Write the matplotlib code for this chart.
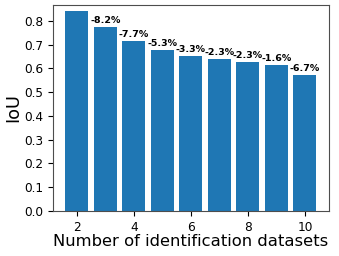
import matplotlib
matplotlib.use("Agg")
import matplotlib.pyplot as plt

num_datasets = [2, 3, 4, 5, 6, 7, 8, 9, 10]
iou = [0.843, 0.774, 0.715, 0.677, 0.654, 0.639, 0.625, 0.614, 0.573]
drops = ["-8.2%", "-7.7%", "-5.3%", "-3.3%", "-2.3%", "-2.3%", "-1.6%", "-6.7%"]

fig = plt.figure(figsize=(3.39, 2.56), dpi=100)
ax = fig.add_axes([0.156, 0.176, 0.814, 0.804])
bars = ax.bar(num_datasets, iou, width=0.8, color="#1f77b4")
for x, y, t in zip(num_datasets[1:], iou[1:], drops):
    ax.text(x, y + 0.008, t, ha="center", va="bottom", fontsize=6.8, fontweight="bold")
ax.set_ylim(0, 0.866)
ax.set_xticks([2, 4, 6, 8, 10])
ax.set_yticks([0.0, 0.1, 0.2, 0.3, 0.4, 0.5, 0.6, 0.7, 0.8])
ax.tick_params(labelsize=8.7)
ax.set_xlabel("Number of identification datasets", fontsize=11.8, labelpad=0)
ax.set_ylabel("IoU", fontsize=12.8, labelpad=1)
for s in ax.spines.values():
    s.set_color("0.3")
fig.savefig("out.png", dpi=100)
